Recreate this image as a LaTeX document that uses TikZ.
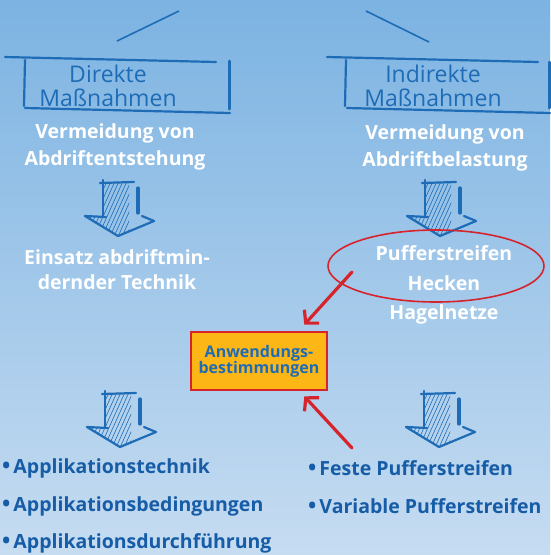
\documentclass[tikz,border=0pt]{standalone}
\usepackage{fontspec}
\setmainfont{Open Sans}
\usetikzlibrary{arrows.meta,shapes.geometric}

\definecolor{skytop}{RGB}{124,179,226}
\definecolor{skybottom}{RGB}{198,220,241}
\definecolor{penblue}{RGB}{30,108,182}
\definecolor{listblue}{RGB}{22,92,166}
\definecolor{penred}{RGB}{214,36,44}
\definecolor{ruleyellow}{RGB}{252,182,22}

\newcommand\dotitem{{\fontsize{22}{22}\selectfont•}\hspace{3pt}}

\begin{document}
\begin{tikzpicture}[x=1pt,y=-1pt]

\tikzset{sketch/.style = {penblue, line width=2.2pt, line cap=round},
         boxlabel/.style = {penblue, align=center, inner sep=0pt, font=\fontsize{23}{24}\selectfont},
         whitelabel/.style = {white, align=center, inner sep=0pt, font=\bfseries\fontsize{19.5}{27}\selectfont},
         listitem/.style = {listblue, anchor=west, inner sep=0pt, font=\bfseries\fontsize{19.5}{22}\selectfont},
         redarrow/.style = {penred, line width=3.2pt, line cap=round,
                            -{Straight Barb[length=9pt,width=20pt,line width=3.2pt]}},
         downarrow/.pic = {
           \begin{scope}
             \clip (-17,0) -- (-17,34) -- (-35,34) -- (-2,53) -- (34,38) -- (18,34) -- (18,0) -- cycle;
             \clip (-40,-5) rectangle (9,60);
             \foreach \k in {-44,-40,...,16}
               \draw[penblue, line width=0.6pt] (\k,58) -- (\k+28,-4);
           \end{scope}
           \draw[sketch] (-17,-3) -- (-17,34);
           \draw[sketch] (-20,0) -- (14,-1);
           \draw[sketch, line width=3.2pt] (18,5) -- (18,30);
           \draw[sketch] (-35,33) -- (-14,34);
           \draw[sketch] (-35,33) -- (-2,53);
           \draw[sketch] (-2,53) -- (34,38);
           \draw[sketch] (34,38) -- (22,33);
         }}

% background
\shade[top color=skytop, bottom color=skybottom] (0,0) rectangle (550,555);
\useasboundingbox (0,0) rectangle (550,555);

% branches from above
\coordinate (rootL) at (179,11);
\coordinate (leafL) at (117,41);
\coordinate (rootR) at (366,11);
\coordinate (leafR) at (429,42);
\draw[penblue, line width=1.6pt] (rootL) -- (leafL);
\draw[penblue, line width=1.6pt] (rootR) -- (leafR);

% Direkte Massnahmen
\node[boxlabel] (direkt) at (108,86) {Direkte\\Maßnahmen};
\draw[sketch] (5,57) -- (216,62);
\draw[sketch] (25,60) -- (24,106);
\draw[sketch] (25,108) -- (230,113);
\draw[sketch, line width=3pt] (229,61) -- (229,109);

% Indirekte Massnahmen
\node[boxlabel] (indirekt) at (433,86) {Indirekte\\Maßnahmen};
\draw[sketch] (327,57) -- (538,62);
\draw[sketch] (346,60) -- (345,106);
\draw[sketch] (347,108) -- (550,113);
\draw[sketch, line width=3pt] (549,62) -- (549,108);

\node[whitelabel] (entstehung) at (115,147) {Vermeidung von\\Abdriftentstehung};
\node[whitelabel] (belastung) at (445,148) {Vermeidung von\\Abdriftbelastung};

\pic at (120,183) {downarrow};
\pic at (442,183) {downarrow};

\node[whitelabel, font=\bfseries\fontsize{19.5}{25}\selectfont] (technik) at (117,270) {Einsatz abdriftmin-\\dernder Technik};
\node[whitelabel, font=\bfseries\fontsize{19.5}{29.5}\selectfont] (puffer) at (444,285) {Pufferstreifen\\Hecken\\Hagelnetze};
\node[ellipse, draw=penred, line width=1.6pt, minimum width=216pt, minimum height=72pt] (buffer) at (436,266) {};

% Anwendungsbestimmungen
\node[fill=ruleyellow, draw=penred, line width=2.6pt, minimum width=136pt, minimum height=58pt,
      align=center, inner sep=0pt, text=penblue, font=\bfseries\fontsize{16}{16}\selectfont]
      (rule) at (259,361) {Anwendungs-\\bestimmungen};

\coordinate (fromBuffer) at (352,272);
\coordinate (fromBelow) at (352,448);
\draw[redarrow] (fromBuffer) -- ([xshift=-24pt,yshift=6pt]rule.north east);
\draw[redarrow] (fromBelow) -- ([xshift=-24pt,yshift=-5pt]rule.south east);

\pic at (122,394) {downarrow};
\pic at (441,394) {downarrow};

% lists
\node[listitem] (tech) at (2,468) {\dotitem Applikationstechnik};
\node[listitem] (bed) at (2,506) {\dotitem Applikationsbedingungen};
\node[listitem] (durch) at (2,543) {\dotitem Applikationsdurchführung};
\node[listitem] (feste) at (308,468) {\dotitem Feste Pufferstreifen};
\node[listitem] (variabel) at (308,506) {\dotitem Variable Pufferstreifen};

\end{tikzpicture}
\end{document}
